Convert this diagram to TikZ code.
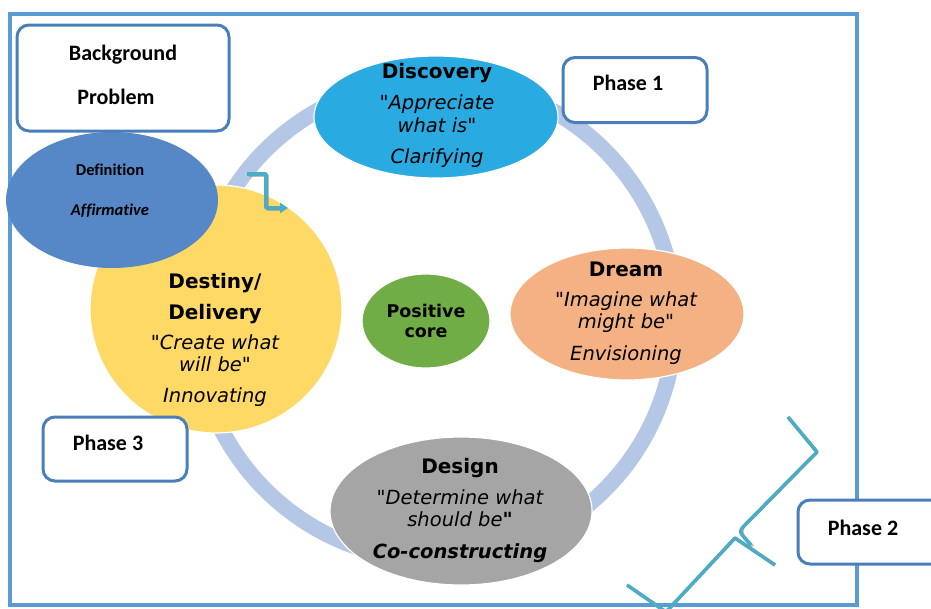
\documentclass[tikz,border=0pt]{standalone}
\usepackage{fontspec}
\usetikzlibrary{shapes.geometric,arrows.meta}
\newfontfamily\verd{DejaVu Sans}
\newfontfamily\cali[Ligatures=NoCommon]{Carlito}
\definecolor{frameblue}{HTML}{5B9BD5}
\definecolor{boxblue}{HTML}{4A7EBB}
\definecolor{ringblue}{HTML}{B4C7E7}
\definecolor{discfill}{HTML}{29ABE2}
\definecolor{dreamfill}{HTML}{F4B183}
\definecolor{corefill}{HTML}{70AD47}
\definecolor{designfill}{HTML}{A5A5A5}
\definecolor{destfill}{HTML}{FFD966}
\definecolor{deffill}{HTML}{5688C7}
\definecolor{teal}{HTML}{4BACC6}
\tikzset{
  blob/.style={ellipse, draw=white, line width=1.2pt, inner sep=0pt},
  phasebox/.style={draw=boxblue, line width=3pt, rounded corners=12pt, fill=white, inner sep=0pt},
  ttl/.style={font=\verd\bfseries\fontsize{20}{24}\selectfont, inner sep=0pt, text height=1.2em, text depth=0pt},
  itl/.style={font=\verd\itshape\fontsize{19.5}{23}\selectfont, inner sep=0pt, text height=1.2em, text depth=0pt},
  cal/.style={font=\cali\bfseries\fontsize{22}{26}\selectfont, inner sep=0pt, text height=1.15em, text depth=0pt},
  calsm/.style={font=\cali\bfseries\fontsize{16.5}{20}\selectfont, inner sep=0pt, text height=1.15em, text depth=0pt},
  tealline/.style={draw=teal, line width=3.5pt, line join=round},
  shadowline/.style={draw=black!45, opacity=0.6, line width=3.5pt, line join=round},
}
\begin{document}
\begin{tikzpicture}[x=1pt,y=-1pt]
\useasboundingbox (0,0) rectangle (931,608);
\fill[white] (0,0) rectangle (931,608);

% outer frame
\draw[frameblue, line width=4pt] (10,14) rectangle (857,605);

% cycle ring
\coordinate (ringc) at (435,320);
\draw[ringblue, line width=16pt] (ringc) circle (240);

% phase ellipses
\node[blob, fill=discfill, minimum width=244, minimum height=122] (disc) at (436,117) {};
\node[blob, fill=dreamfill, minimum width=234, minimum height=132] (dream) at (627,314) {};
\node[blob, fill=corefill, minimum width=128, minimum height=94] (core) at (426,321) {};
\node[blob, fill=designfill, minimum width=262, minimum height=148] (design) at (461,511) {};
\node[blob, fill=destfill, minimum width=252, minimum height=248] (dest) at (216,309) {};
\node[blob, draw=none, fill=deffill, minimum width=212, minimum height=136] (defn) at (112,200) {};

% Discovery text
\node[ttl] (disc1) at (437,72) {Discovery};
\node[itl] (disc2) at (437,103) {"Appreciate};
\node[itl] (disc3) at (437,126) {what is"};
\node[itl] (disc4) at (437,157) {Clarifying};

% Dream text
\node[ttl] (dream1) at (626,270) {Dream};
\node[itl] (dream2) at (626,300) {"Imagine what};
\node[itl] (dream3) at (626,322) {might be"};
\node[itl] (dream4) at (626,354) {Envisioning};

% Positive core text
\node[ttl, font=\verd\bfseries\fontsize{17.5}{21}\selectfont] (core1) at (426,311) {Positive};
\node[ttl, font=\verd\bfseries\fontsize{17.5}{21}\selectfont] (core2) at (426,331) {core};

% Design text
\node[ttl] (des1) at (460,467) {Design};
\node[itl] (des2) at (460,498) {"Determine what};
\node[itl] (des3) at (460,520) {should be\textbf{"}};
\node[itl, font=\verd\bfseries\itshape\fontsize{19.5}{23}\selectfont] (des4) at (460,552) {Co-constructing};

% Destiny text
\node[ttl] (dst1) at (215,282) {Destiny/};
\node[ttl] (dst2) at (215,313) {Delivery};
\node[itl] (dst3) at (215,343) {"Create what};
\node[itl] (dst4) at (215,365) {will be"};
\node[itl] (dst5) at (215,396) {Innovating};

% Definition text
\node[calsm] (def1) at (110,170) {Definition};
\node[calsm, font=\cali\bfseries\itshape\fontsize{16.5}{20}\selectfont] (def2) at (110,210) {Affirmative};

% Background box
\node[phasebox, minimum width=212, minimum height=106] (bg) at (123,78) {};
\node[cal] (bg1) at (123,55) {Background};
\node[cal] (bg2) at (116,99) {Problem};

% phase labels
\node[phasebox, minimum width=144, minimum height=65] (ph1) at (635,90) {};
\node[cal] (ph1t) at (628,85) {Phase 1};
\node[phasebox, minimum width=144, minimum height=64] (ph3) at (115,449) {};
\node[cal] (ph3t) at (108,445) {Phase 3};
\node[phasebox, minimum width=150, minimum height=64] (ph2) at (873,532) {};
\node[cal] (ph2t) at (863,530) {Phase 2};

% elbow arrow
\coordinate (ea) at (247,174);
\coordinate (eb) at (288,208);
\draw[shadowline] ([shift={(1.5,1.5)}]ea) -| ([shift={(1.5,1.5)}]266,208) -- ([shift={(-4,1.5)}]eb);
\draw[tealline, -{Triangle[length=8pt,width=10pt]}] (ea) -| (266,208) -- (eb);

% brace toward Phase 2
\coordinate (b1) at (788,417);
\coordinate (b2) at (817,452);
\coordinate (b3) at (743,527);
\coordinate (b3a) at (735,538);
\coordinate (btip) at (775,565);
\coordinate (b4) at (666,612);
\coordinate (b5) at (627,585);
\begin{scope}[shift={(1.5,1.5)}]
  \draw[shadowline] (b1) -- (b2) -- (b3) .. controls (739,532) .. (751,545);
  \draw[shadowline] (b5) -- (b4) -- (b3a) -- (btip);
\end{scope}
\draw[tealline] (b1) -- (b2) -- (b3) .. controls (739,532) .. (751,545);
\draw[tealline] (b5) -- (b4) -- (b3a) -- (btip);
\end{tikzpicture}
\end{document}
